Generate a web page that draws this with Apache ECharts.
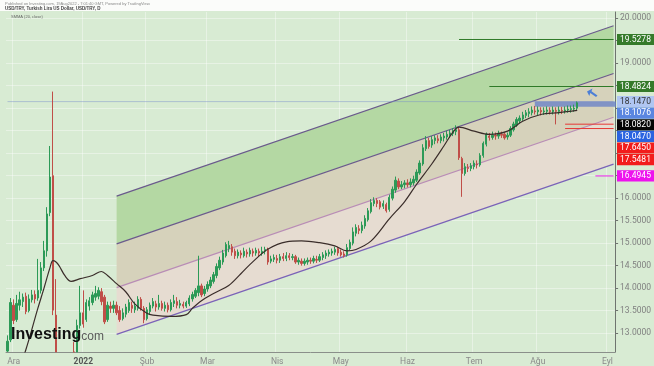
<!DOCTYPE html>
<html><head><meta charset="utf-8">
<script src="https://cdn.jsdelivr.net/npm/echarts@6/dist/echarts.min.js"></script>
<style>html,body{margin:0;padding:0;background:#d8ebd3;}#c{width:654px;height:366px;}</style>
</head><body><div id="c"></div>
<script>
// ---- data ----
const startDate = [2021, 10, 29];           // first trading day shown (29 Nov 2021)
const dayCount = 201;                        // trading-day slots on the axis
const monthNames = ['Oca','Şub','Mar','Nis','May','Haz','Tem','Ağu','Eyl','Eki','Kas','Ara'];
const yearLabel = '2022';
const yMin = 12.58, yMax = 20.139;
const yTicks = [13,13.5,14,14.5,15,15.5,16,16.5,17,17.5,18,18.5,19,19.5,20];
const yLabels = [13,13.5,14,14.5,15,15.5,16,19,20];

// daily candles [open, close, low, high]
const ohlc = [
 [12.60,12.82,12.50,12.95],[12.85,13.68,12.80,13.78],[13.62,13.28,13.20,13.75],[13.30,13.66,13.25,13.85],
 [13.62,13.74,13.50,13.92],[13.70,13.80,13.58,13.88],[13.82,13.48,13.42,13.90],[13.50,13.76,13.46,13.86],
 [13.74,13.85,13.68,13.96],[13.86,13.76,13.66,13.95],[13.78,13.95,13.72,14.65],[13.95,14.45,13.88,14.58],
 [14.45,14.83,14.38,15.05],[14.83,15.65,14.70,15.80],[15.68,16.47,15.60,17.16],[16.50,13.51,13.40,18.37],
 [13.40,12.10,11.60,14.20],[12.10,11.50,11.00,12.45],[11.50,11.10,10.25,11.80],[11.10,11.40,10.90,11.70],
 [11.40,11.55,11.20,11.90],[11.55,11.95,11.45,12.20],[11.95,12.40,11.85,12.80],[12.40,13.17,12.30,13.30],
 [13.17,13.45,13.10,14.05],
 // Jan
 [13.45,13.20,13.12,13.95],[13.30,13.68,13.25,13.75],[13.60,13.72,13.50,13.80],[13.68,13.85,13.62,13.92],
 [13.80,13.88,13.72,14.05],[13.82,13.95,13.75,14.02],[13.92,13.70,13.62,14.00],[13.80,13.25,13.20,13.85],
 [13.30,13.62,13.25,13.70],[13.60,13.55,13.45,13.70],[13.55,13.62,13.45,13.72],[13.62,13.45,13.40,13.70],
 [13.50,13.30,13.25,13.60],[13.32,13.45,13.28,13.55],[13.42,13.58,13.35,13.65],[13.50,13.68,13.45,13.75],
 [13.62,13.55,13.45,13.70],[13.52,13.60,13.45,13.70],[13.55,13.75,13.50,13.82],[13.75,13.55,13.50,13.80],
 [13.55,13.30,13.22,13.60],
 // Feb
 [13.32,13.52,13.28,13.58],[13.48,13.62,13.42,13.68],[13.60,13.70,13.55,13.78],[13.65,13.58,13.48,13.72],
 [13.58,13.66,13.52,13.85],[13.66,13.55,13.50,13.72],[13.55,13.62,13.48,13.70],[13.62,13.52,13.46,13.68],
 [13.52,13.68,13.48,13.75],[13.66,13.72,13.58,13.85],[13.70,13.62,13.55,13.80],[13.62,13.66,13.55,13.74],
 [13.64,13.60,13.55,13.70],[13.60,13.68,13.56,13.72],[13.65,13.78,13.60,13.84],[13.76,13.86,13.70,13.92],
 [13.82,13.95,13.78,14.00],[13.90,14.05,13.82,14.72],[14.05,13.85,13.80,14.10],[13.88,13.98,13.82,14.05],
 // Mar
 [13.98,14.08,13.92,14.15],[14.05,14.18,14.00,14.25],[14.15,14.30,14.10,14.36],[14.28,14.48,14.22,14.55],
 [14.45,14.62,14.40,14.70],[14.58,14.78,14.52,14.85],[14.72,14.97,14.68,15.02],[14.88,14.95,14.80,15.05],
 [14.92,14.80,14.72,14.98],[14.82,14.72,14.65,14.88],[14.72,14.80,14.66,14.86],[14.78,14.74,14.66,14.84],
 [14.72,14.82,14.68,14.90],[14.80,14.76,14.68,14.86],[14.76,14.84,14.70,14.90],[14.82,14.78,14.70,14.88],
 [14.78,14.84,14.72,14.90],[14.82,14.78,14.70,14.88],[14.78,14.82,14.72,14.92],[14.82,14.86,14.75,14.92],
 [14.86,14.58,14.52,14.90],[14.60,14.65,14.55,14.72],[14.64,14.68,14.58,14.75],
 // Apr
 [14.66,14.62,14.55,14.74],[14.62,14.70,14.56,14.76],[14.70,14.66,14.60,14.78],[14.66,14.72,14.60,14.80],
 [14.72,14.68,14.62,14.78],[14.68,14.70,14.62,14.76],[14.70,14.58,14.54,14.74],[14.58,14.62,14.52,14.68],
 [14.60,14.55,14.50,14.66],[14.55,14.60,14.50,14.66],[14.58,14.62,14.52,14.68],[14.62,14.60,14.54,14.68],
 [14.60,14.66,14.55,14.72],[14.64,14.62,14.56,14.72],[14.62,14.70,14.58,14.76],[14.68,14.74,14.62,14.80],
 [14.72,14.78,14.65,14.84],[14.76,14.80,14.70,14.86],[14.78,14.82,14.72,14.88],[14.80,14.86,14.74,14.92],
 [14.88,14.78,14.72,14.92],
 // May
 [14.80,14.74,14.70,14.86],[14.76,14.72,14.68,14.82],[14.74,14.90,14.70,14.98],[14.88,15.02,14.84,15.08],
 [15.00,15.25,14.95,15.35],[15.22,15.35,15.15,15.42],[15.32,15.28,15.20,15.40],[15.28,15.40,15.22,15.48],
 [15.38,15.55,15.32,15.62],[15.52,15.72,15.48,15.78],[15.70,15.90,15.66,15.98],[15.88,15.95,15.82,16.02],
 [15.95,15.88,15.80,16.00],[15.92,15.80,15.75,15.96],[15.82,15.88,15.76,15.95],[15.86,15.72,15.68,15.90],
 [15.75,16.02,15.70,16.08],[16.00,16.20,15.95,16.26],[16.18,16.40,16.12,16.48],[16.38,16.25,16.20,16.44],
 [16.25,16.30,16.20,16.38],[16.30,16.34,16.22,16.40],
 // Jun
 [16.34,16.30,16.24,16.42],[16.30,16.36,16.24,16.44],[16.34,16.42,16.28,16.50],[16.40,16.58,16.36,16.64],
 [16.56,16.78,16.52,16.84],[16.76,17.12,16.72,17.20],[17.10,17.28,17.05,17.38],[17.28,17.15,17.10,17.34],
 [17.18,17.30,17.12,17.38],[17.28,17.34,17.20,17.40],[17.32,17.28,17.22,17.40],[17.28,17.36,17.22,17.42],
 [17.34,17.38,17.26,17.45],[17.36,17.42,17.30,17.50],[17.40,17.45,17.34,17.52],[17.44,17.50,17.38,17.56],
 [17.48,17.52,17.40,17.62],[17.52,16.90,16.85,17.58],[16.88,16.55,16.03,16.92],[16.55,16.70,16.50,16.78],
 [16.68,16.66,16.58,16.76],[16.66,16.72,16.60,16.78],
 // Jul
 [16.70,16.78,16.64,16.84],[16.76,16.74,16.66,16.84],[16.74,16.95,16.70,17.00],[16.95,17.22,16.90,17.26],
 [17.20,17.42,17.15,17.46],[17.38,17.35,17.28,17.45],[17.35,17.40,17.30,17.48],[17.40,17.38,17.30,17.46],
 [17.38,17.44,17.32,17.50],[17.42,17.40,17.34,17.48],[17.42,17.34,17.30,17.46],[17.36,17.40,17.30,17.46],
 [17.40,17.55,17.36,17.60],[17.52,17.65,17.48,17.70],[17.62,17.75,17.58,17.80],[17.72,17.78,17.66,17.84],
 [17.76,17.85,17.72,17.92],[17.84,17.90,17.78,17.96],[17.88,17.92,17.80,18.00],[17.90,17.96,17.84,18.04],
 [17.94,17.92,17.86,18.05],
 // Aug
 [17.92,17.96,17.85,18.04],[17.95,17.92,17.84,18.02],[17.92,17.94,17.85,18.02],[17.93,17.96,17.86,18.04],
 [17.95,17.92,17.86,18.02],[17.92,17.96,17.86,18.04],[17.95,17.93,17.64,18.02],[17.93,17.96,17.86,18.04],
 [17.95,17.94,17.87,18.03],[17.94,17.96,17.88,18.04],[17.96,17.98,17.90,18.06],[17.97,17.99,17.90,18.06],
 [17.98,18.00,17.92,18.08],[18.00,18.12,17.96,18.15]
];

// moving average: [trading-day slot, value]
const maPoints = [
 [3,12.10],[6,12.62],[10,13.55],[12,13.99],[14,14.45],[15,14.61],[16,14.58],[17,14.50],[19,14.27],[21,14.15],
 [24,14.21],[28,14.28],[31,14.37],[33,14.28],[36,14.10],[39,13.92],[42,13.65],[46,13.44],[48,13.40],[54,13.37],
 [59,13.41],[61,13.55],[64,13.72],[68,13.88],[73,14.06],[77,14.32],[81,14.59],[86,14.87],[92,15.03],[97,15.05],
 [103,15.01],[108,14.94],[112,14.83],[115,14.86],[120,15.05],[126,15.54],[131,15.92],[135,16.31],[140,16.76],
 [144,17.16],[147,17.47],[149,17.58],[154,17.49],[159,17.42],[165,17.49],[170,17.71],[176,17.86],[182,17.90],[188,17.95]
];

// regression channel: value of each line at the first and last slot (top, upper-mid, lower-mid, bottom)
const channelFrom = 36, channelTo = 200;
const channelAtFrom = [16.046, 14.984, 14.011, 12.971];
const channelAtTo   = [19.833, 18.771, 17.798, 16.758];

// horizontal price levels drawn on the chart
const levelLineValues = [19.5278, 18.4824, 17.6450, 17.5481, 16.4945];
const levelLineFrom   = [149, 159, 184, 184, 194];
const zoneTop = 18.1470, zoneBottom = 18.035, zoneFrom = 174;

// right-hand price tags
const tagValues = [19.5278, 18.4824, 18.1470, 18.1076, 18.0820, 18.0470, 17.6450, 17.5481, 16.4945];

// ---- styles ----
const levelLineColors = ['#2f7a28','#2f7a28','#e53935','#e53935','#e81ee8'];
const tagBg = ['#357a2a','#357a2a','#b0c6f2','#5a86e0','#050505','#2a63e0','#f21c1c','#f21c1c','#ee12ee'];
const tagFg = ['#fff','#fff','#333','#fff','#fff','#fff','#fff','#fff','#fff'];
const bandColors = ['#b4d8a3','#d6d2bb','#e6dcd1'];
const channelColors = ['#6a5a8c','#6a5a8c','#b98cb6','#7a62b8'];

// trading-day axis (weekdays only)
const dates = [];
(function(){
  let t = Date.UTC(startDate[0], startDate[1], startDate[2]);
  while (dates.length < dayCount) {
    const d = new Date(t), wd = d.getUTCDay();
    if (wd !== 0 && wd !== 6) dates.push(d.toISOString().slice(0,10));
    t += 86400000;
  }
})();
function isMonthStart(i){ return i > 0 && dates[i].slice(5,7) !== dates[i-1].slice(5,7); }

// candles are only partially clipped by ECharts, so cut them at the visible floor
const candleView = ohlc.map(c => c[3] < yMin ? '-' : c.map(v => Math.max(v, yMin)));

const chart = echarts.init(document.getElementById('c'));

const series = [];
// channel fills
series.push({
  type:'custom', clip:true, silent:true, z:1,
  data: [0,1,2].map(k => [channelFrom, channelTo, channelAtFrom[k], channelAtFrom[k+1], channelAtTo[k], channelAtTo[k+1]]),
  encode:{x:[0,1], y:[2,3,4,5]},
  renderItem:(params, api) => {
    const a = api.coord([api.value(0), api.value(2)]);
    const b = api.coord([api.value(1), api.value(4)]);
    const c = api.coord([api.value(1), api.value(5)]);
    const d = api.coord([api.value(0), api.value(3)]);
    return {type:'polygon', shape:{points:[a,b,c,d]}, style:{fill:bandColors[params.dataIndex]}};
  }
});
// channel lines
channelAtFrom.forEach((v, k) => {
  series.push({type:'line', z:2, silent:true, symbol:'none', clip:true, data:[[channelFrom, v],[channelTo, channelAtTo[k]]],
    lineStyle:{color:channelColors[k], width:1.2}});
});
// faint full-width price line
series.push({type:'line', z:2, silent:true, symbol:'none', data:[[0, zoneTop],[dayCount-1, zoneTop]],
  lineStyle:{color:'rgba(120,140,205,0.45)', width:1}});
// zone rectangle
series.push({
  type:'custom', clip:true, silent:true, z:3,
  data:[[zoneFrom, dayCount-1, zoneTop, zoneBottom]],
  encode:{x:[0,1], y:[2,3]},
  renderItem:(params, api) => {
    const a = api.coord([api.value(0), api.value(2)]);
    const c = api.coord([api.value(1), api.value(3)]);
    return {type:'rect', shape:{x:a[0], y:a[1], width:c[0]-a[0]+3, height:c[1]-a[1]}, style:{fill:'rgba(100,125,200,0.75)'}};
  }
});
// level lines
levelLineValues.forEach((v, k) => {
  series.push({type:'line', z:3, silent:true, symbol:'none', data:[[levelLineFrom[k], v],[dayCount-1, v]],
    lineStyle:{color:levelLineColors[k], width:1}});
});
// candles
series.push({
  type:'candlestick', z:5, data: candleView, barWidth:1.8, clip:true,
  itemStyle:{color:'#2c9a57', color0:'#c04e48', borderColor:'#2c9a57', borderColor0:'#c04e48', borderWidth:1}
});
// moving average
series.push({type:'line', z:6, silent:true, symbol:'none', smooth:0.35, clip:true, data:maPoints,
  lineStyle:{color:'#3a2d2a', width:1.2}});

chart.setOption({
  animation:false,
  backgroundColor:'#d8ebd3',
  grid:{left:6, right:38, top:12, bottom:12, containLabel:false},
  xAxis:{
    type:'category', data:dates, boundaryGap:true,
    axisLine:{lineStyle:{color:'#8a8f8a'}},
    axisTick:{interval:(i)=>isMonthStart(i), alignWithLabel:true, length:3, lineStyle:{color:'#8a8f8a'}},
    axisLabel:{interval:(i)=>isMonthStart(i), margin:5, color:'#8a8a8a', fontSize:8.5, fontFamily:'Roboto',
      formatter:(v)=>{ const m = +v.slice(5,7); return m === 1 ? '{y|' + yearLabel + '}' : monthNames[m-1]; },
      rich:{y:{fontWeight:'bold', color:'#555', fontSize:8.5, fontFamily:'Roboto'}}},
    splitLine:{show:true, interval:(i)=>isMonthStart(i), lineStyle:{color:'rgba(255,255,255,0.38)'}}
  },
  yAxis:{
    type:'value', position:'right', min:yMin, max:yMax, scale:true,
    axisLine:{show:true, lineStyle:{color:'#6f746f'}},
    axisTick:{show:true, length:3, customValues:yTicks, lineStyle:{color:'#6f746f'}},
    axisLabel:{customValues:yLabels, formatter:(v)=>v.toFixed(4), color:'#808080', fontSize:8.5, fontFamily:'Roboto', margin:5},
    splitLine:{show:true, lineStyle:{color:'rgba(255,255,255,0.38)'}}
  },
  series: series
});

// price tags on the right, pushed apart when they would overlap
const g = [
  {type:'rect', shape:{x:0, y:0, width:654, height:11}, style:{fill:'#fbfcfa'}, z:100},
  {type:'text', x:5, y:1.5, z:101, style:{text:'Published on Investing.com, 19Aug2022 - 7:01:40 GMT, Powered by TradingView.', fontSize:4, fill:'#8a8a8a'}},
  {type:'text', x:5, y:6, z:101, style:{text:'USD/TRY, Turkish Lira US Dollar, USD/TRY, D', fontSize:4.5, fontWeight:'bold', fill:'#444'}},
  {type:'text', x:11, y:14.5, z:101, style:{text:'SMMA (20, close)', fontSize:4, fill:'#666'}},
  {type:'text', x:11, y:327, z:101, style:{text:'{a|Investing}{b|com}', rich:{
     a:{fontSize:16, fontWeight:'bold', fill:'#111', fontFamily:'Liberation Sans'},
     b:{fontSize:12, fill:'#5a5a5a', fontFamily:'Liberation Sans', padding:[3,0,0,0]}}}},
  {type:'polygon', z:101, shape:{points:[[587,91.5],[592.5,88.5],[591.5,91.3],[597.5,95.5],[596,97],[590.3,93],[589.3,96]]}, style:{fill:'#4d7fd6'}}
];
let prev = -Infinity;
tagValues.forEach((v, k) => {
  let y = chart.convertToPixel({yAxisIndex:0}, v);
  y = Math.max(y, prev + 11.6);
  prev = y;
  g.push({type:'rect', z:110, shape:{x:617, y:y-5.6, width:37, height:11.2}, style:{fill:tagBg[k]}});
  g.push({type:'text', z:111, x:620, y:y, style:{text:v.toFixed(4), fontSize:8.5, fontFamily:'Roboto', fill:tagFg[k], verticalAlign:'middle'}});
});
chart.setOption({graphic:g});
</script>
</body></html>
